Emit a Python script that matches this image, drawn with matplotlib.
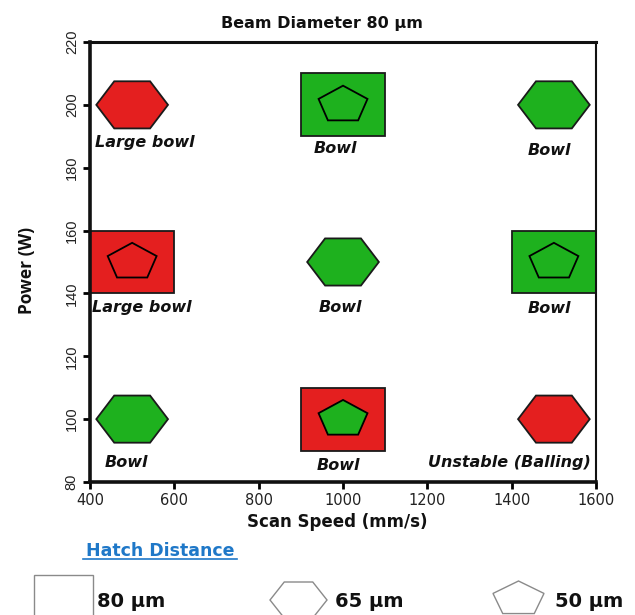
import numpy as np
import matplotlib
matplotlib.use("Agg")
import matplotlib.pyplot as plt
from matplotlib.patches import Polygon, Rectangle
from matplotlib.lines import Line2D

# process map: scan speed vs laser power
speed = [500, 1000, 1500, 500, 1000, 1500, 500, 1000, 1500]
power = [200, 200, 200, 150, 150, 150, 100, 100, 100]
hatch_outer = [65, 80, 65, 80, 65, 80, 65, 80, 65]          # hatch distance, um
outer_result = ['bad', 'good', 'good', 'bad', 'good', 'good', 'good', 'bad', 'bad']
inner_result = [None, 'good', None, 'bad', None, 'good', None, 'good', None]  # 50 um run
outcome = ['Large bowl', 'Bowl', 'Bowl', 'Large bowl', 'Bowl', 'Bowl',
           'Bowl', 'Bowl', 'Unstable (Balling)']

xticks = [400, 600, 800, 1000, 1200, 1400, 1600]
yticks = [80, 100, 120, 140, 160, 180, 200, 220]
legend_hatch = ['80 µm', '65 µm', '50 µm']

colors = {'good': '#1EB11E', 'bad': '#E41F1F'}
# label offsets from each point (data units), baseline aligned
label_dx = [30, -18, -11, 22, -7, -11, -13.5, -10, -106]
label_dy = [-13.3, -15.2, -16.0, -15.8, -15.8, -16.3, -15.1, -16.2, -15.1]

wide = ['DejaVu Sans']
narrow = ['Liberation Sans', 'DejaVu Sans']
tall = ['Open Sans', 'DejaVu Sans']


def ngon(cx, cy, n, rx, ry, rot=0.0):
    ang = np.deg2rad(rot + np.arange(n) * 360.0 / n)
    return np.column_stack([cx + rx * np.cos(ang), cy + ry * np.sin(ang)])


def shape(kind, cx, cy, rx, ry, rot=90):
    if kind == 80:
        return Rectangle((cx - rx, cy - ry), 2 * rx, 2 * ry)
    if kind == 65:
        return Polygon(ngon(cx, cy, 6, rx, ry / np.sin(np.pi / 3)))
    return Polygon(ngon(cx, cy, 5, rx / np.cos(np.deg2rad(18)), ry, rot=rot))


# half sizes in data units: square, hexagon, pentagon
size = {80: (100, 10), 65: (85, 7.5), 50: (58, 6.1)}

fig = plt.figure(figsize=(6.35, 6.15), dpi=100)
ax = fig.add_axes([0.1417, 0.2163, 0.797, 0.7154])

for i in range(len(speed)):
    p = shape(hatch_outer[i], speed[i], power[i], *size[hatch_outer[i]])
    p.set_facecolor(colors[outer_result[i]])
    p.set_edgecolor('#1a1a1a')
    p.set_linewidth(1.3)
    p.set_zorder(2)
    ax.add_patch(p)
    if inner_result[i] is not None:
        q = shape(50, speed[i], power[i], *size[50])
        q.set_facecolor(colors[inner_result[i]])
        q.set_edgecolor('black')
        q.set_linewidth(1.3)
        q.set_zorder(3)
        ax.add_patch(q)
    ax.text(speed[i] + label_dx[i], power[i] + label_dy[i], outcome[i],
            ha='center', va='baseline', fontsize=11.5, fontweight='bold',
            fontstyle='italic', family=wide, color='#111111', zorder=4)

ax.set_xlim(400, 1600)
ax.set_ylim(80, 220)
ax.set_xticks(xticks)
ax.set_yticks(yticks)
ax.set_xticklabels([str(t) for t in xticks], family=wide, fontsize=10.5,
                   color='#222222')
ax.set_yticklabels([str(t) for t in yticks], family=narrow, fontsize=10.5,
                   rotation=90, va='center', color='#222222')
ax.tick_params(direction='out', length=5, width=2, color='black', pad=3)
for side, lw in [('left', 2.6), ('bottom', 2.6), ('top', 2.2), ('right', 1.5)]:
    ax.spines[side].set_linewidth(lw)
    ax.spines[side].set_color('#111111')

fig.text(337 / 635, 1 - 527 / 615, 'Scan Speed (mm/s)', ha='center', va='baseline',
         family=wide, fontweight='bold', fontsize=12, color='#111111')
fig.text(27 / 635, 1 - 270 / 615, 'Power (W)', ha='center', va='center',
         rotation=90, family=tall, fontweight='bold', fontsize=12.5, color='#111111')
fig.text(322 / 635, 1 - 28 / 615, 'Beam Diameter 80 µm', ha='center', va='baseline',
         family=wide, fontweight='bold', fontsize=11.5, color='#111111')

# hatch distance key, drawn in pixel space under the axes
lg = fig.add_axes([0, 0, 1, 1], zorder=-1)
lg.set_xlim(0, 635)
lg.set_ylim(615, 0)
lg.axis('off')

lg.text(160, 556, 'Hatch Distance', ha='center', va='baseline', family=wide,
        fontweight='bold', fontsize=12.5, color='#1F78C8')
lg.add_line(Line2D([83, 237], [559, 559], color='#1F78C8', lw=1.2))

key_kind = [80, 65, 50]
key_x = [63.5, 298.5, 518.5]
key_y = [598, 600, 599]
key_size = [(29.5, 23), (28.5, 18), (25.5, 18)]
key_text_x = [97, 335, 555]
for kind, kx, ky, (rx, ry), tx, txt in zip(key_kind, key_x, key_y, key_size,
                                           key_text_x, legend_hatch):
    # pixel space has y pointing down, so the pentagon apex is at -90 deg
    p = shape(kind, kx, ky, rx, ry, rot=-90)
    p.set_facecolor('white')
    p.set_edgecolor('#8a8a8a')
    p.set_linewidth(1.0)
    p.set_clip_on(False)
    lg.add_patch(p)
    lg.text(tx, 607, txt, ha='left', va='baseline', family=wide,
            fontweight='bold', fontsize=14, color='#111111')

fig.savefig('out.png', dpi=100)
